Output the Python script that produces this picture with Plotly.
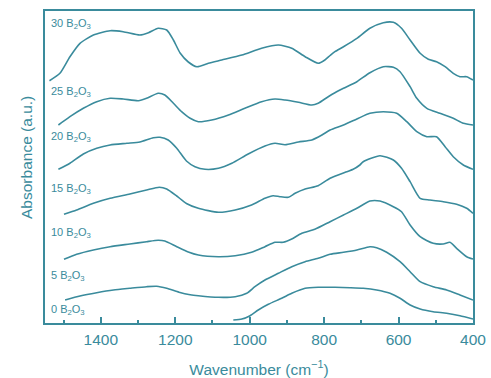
import plotly.graph_objects as go

TEAL = "#3a8b9c"

# Wavenumber (cm^-1) and offset absorbance (a.u.) for each composition
wn_30 = [1538, 1510, 1483, 1456, 1420, 1375, 1340, 1295, 1272, 1246, 1223, 1205, 1187, 1165, 1142,
         1111, 1075, 1021, 968, 923, 887, 851, 816, 798, 784, 771, 748, 712, 677, 641, 614, 592, 569,
         542, 520, 498, 475, 453, 435, 417, 400]
ab_30 = [242.3, 249.7, 266.3, 279.7, 288, 292.3, 291.3, 288, 290.3, 294.7, 293, 283, 270, 261, 256.3,
         259.7, 263, 268, 274.7, 278, 274.7, 266.3, 259.7, 263, 267.5, 271.3, 276.3, 284.7, 294.7, 300.3, 300.7, 294.7, 283,
         269.7, 263.7, 261.3, 256.3, 249.7, 246.3, 246.3, 243]

wn_25 = [1514, 1483, 1447, 1411, 1375, 1340, 1299, 1277, 1246, 1228, 1205, 1183, 1160, 1138, 1102,
         1057, 1013, 968, 932, 905, 869, 833, 816, 789, 771, 748, 712, 677, 641, 614, 596, 569, 551,
         524, 489, 453, 426, 400]
ab_25 = [198, 206.3, 214.7, 221.3, 224.7, 224, 222.3, 224.7, 229.7, 228, 219.7, 211.3, 204.7, 201.3, 203,
         208, 214.7, 221.3, 224, 223, 220.7, 218, 219.7, 226.3, 230.3, 234.7, 241.3, 250.3, 256.3, 255.7, 251.3, 236.3, 224.7,
         214.7, 209.7, 204.7, 199.7, 198]

wn_20 = [1514, 1483, 1447, 1411, 1375, 1330, 1295, 1259, 1241, 1219, 1196, 1170, 1147, 1120, 1084,
         1048, 1004, 959, 932, 905, 869, 833, 806, 784, 748, 712, 677, 641, 605, 578, 551, 524, 498,
         475, 453, 426, 400]
ab_20 = [153.7, 159.7, 169, 174.7, 178, 179.7, 181, 185.3, 185.7, 183, 174.7, 162, 156.3, 153.7, 154.7,
         159.7, 169, 177, 179.7, 178.3, 181, 183, 188, 193, 198, 204, 209.7, 211.3, 209.7, 201.3, 191.3, 186.3, 186.3,
         176.3, 166.3, 158, 153.7]

wn_15 = [1499, 1465, 1420, 1375, 1322, 1277, 1243, 1223, 1196, 1170, 1138, 1084, 1039, 995, 959,
         937, 919, 896, 878, 851, 816, 784, 739, 722, 704, 695, 650, 614, 592, 569, 542, 516, 480,
         444, 417, 400]
ab_15 = [108.7, 113, 119.7, 124.7, 129, 133, 135.7, 134, 127, 119.5, 114.7, 110.7, 113, 118, 124.7,
         127.3, 126.3, 125.7, 129.7, 134, 137.3, 144.7, 151.3, 153.7, 158, 161.3, 167.3, 163, 154.7, 141.3, 124.7, 123, 121.3,
         118.7, 114.7, 109.7]

wn_10 = [1499, 1465, 1420, 1375, 1322, 1277, 1246, 1228, 1196, 1165, 1138, 1084, 1039, 995, 959,
         932, 910, 887, 860, 825, 784, 748, 712, 677, 650, 614, 592, 569, 542, 507, 480, 462, 444,
         417, 400]
ab_10 = [63.7, 68.7, 73, 76.3, 79, 81.3, 82.7, 82, 76.3, 71, 68, 66.3, 67.3, 70.7, 76.3,
         80.7, 80.7, 84, 89.7, 93.7, 101.3, 108, 114.7, 122, 122, 116.3, 111.3, 98, 86.3, 79.7, 79, 80.7, 74.7,
         66.3, 64]

wn_5 = [1496, 1456, 1411, 1366, 1322, 1277, 1250, 1223, 1190, 1160, 1138, 1084, 1039, 1008, 986,
        959, 923, 887, 851, 816, 784, 748, 712, 677, 659, 632, 596, 569, 542, 507, 471, 435, 400]
ab_5 = [23, 27, 30.3, 33, 34.7, 36.3, 36.7, 34.7, 30.8, 28.3, 27.3, 25.7, 26.3, 29.7, 36.3,
        43, 49.7, 56.3, 61.3, 64.7, 68.7, 70.7, 73, 76.3, 75.3, 70.7, 61.3, 51.3, 41.3, 36.3, 33, 28, 23]

wn_0 = [1044, 1021, 999, 977, 950, 914, 887, 851, 816, 771, 730, 695, 659, 623, 596, 569, 542, 507,
        471, 435, 400]
ab_0 = [3, 4, 7.3, 13, 18.7, 24.7, 29.7, 34.7, 35.7, 35.7, 35.3, 34.7, 33, 29.7, 24.7, 18, 14, 11.3,
        9.7, 7.3, 4]

series = [
    ("30", wn_30, ab_30, 299),
    ("25", wn_25, ab_25, 231),
    ("20", wn_20, ab_20, 186),
    ("15", wn_15, ab_15, 134),
    ("10", wn_10, ab_10, 90),
    ("5", wn_5, ab_5, 47),
    ("0", wn_0, ab_0, 13),
]

tick_vals = [1400, 1200, 1000, 800, 600, 400]
tick_text = ["1400", "1200", "1000", "800", "600", "400"]

FONT = "Liberation Sans, Arial, Helvetica, sans-serif"

fig = go.Figure()
annotations = []
for name, wn, ab, label_y in series:
    fig.add_trace(go.Scatter(
        x=wn, y=ab, mode="lines",
        line=dict(color=TEAL, width=1.6, shape="spline", smoothing=0.6),
        showlegend=False, hoverinfo="skip",
    ))
    annotations.append(dict(
        x=1539, y=label_y, xref="x", yref="y",
        text=f"{name} B<sub>2</sub>O<sub>3</sub>",
        showarrow=False, xanchor="left", yanchor="middle",
        font=dict(family=FONT, size=11, color=TEAL),
    ))

annotations.append(dict(
    x=-0.042, y=0.529, xref="paper", yref="paper",
    text="Absorbance (a.u.)", textangle=-90, showarrow=False,
    xanchor="center", yanchor="middle",
    font=dict(family=FONT, size=15.5, color=TEAL),
))

fig.update_layout(
    width=491, height=378,
    margin=dict(l=45, r=18, t=11, b=55),
    paper_bgcolor="white", plot_bgcolor="white",
    annotations=annotations,
    xaxis=dict(
        range=[1550, 400], tickvals=tick_vals, ticktext=tick_text,
        ticks="inside", ticklen=6, tickwidth=1.5, tickcolor=TEAL,
        minor=dict(dtick=100, tick0=400, ticks="inside", ticklen=3, tickwidth=1.5, tickcolor=TEAL, showgrid=False),
        showline=True, linecolor=TEAL, linewidth=2, mirror=True,
        showgrid=False, zeroline=False, automargin=False,
        ticklabelstandoff=1,
        tickfont=dict(family=FONT, size=15.5, color=TEAL),
        title=dict(text="Wavenumber (cm<sup>−1</sup>)", standoff=26,
                   font=dict(family=FONT, size=15.5, color=TEAL)),
    ),
    yaxis=dict(
        range=[0, 312], showticklabels=False, ticks="",
        showline=True, linecolor=TEAL, linewidth=2, mirror=True,
        showgrid=False, zeroline=False, automargin=False,
    ),
)

fig.write_html("out.html")
